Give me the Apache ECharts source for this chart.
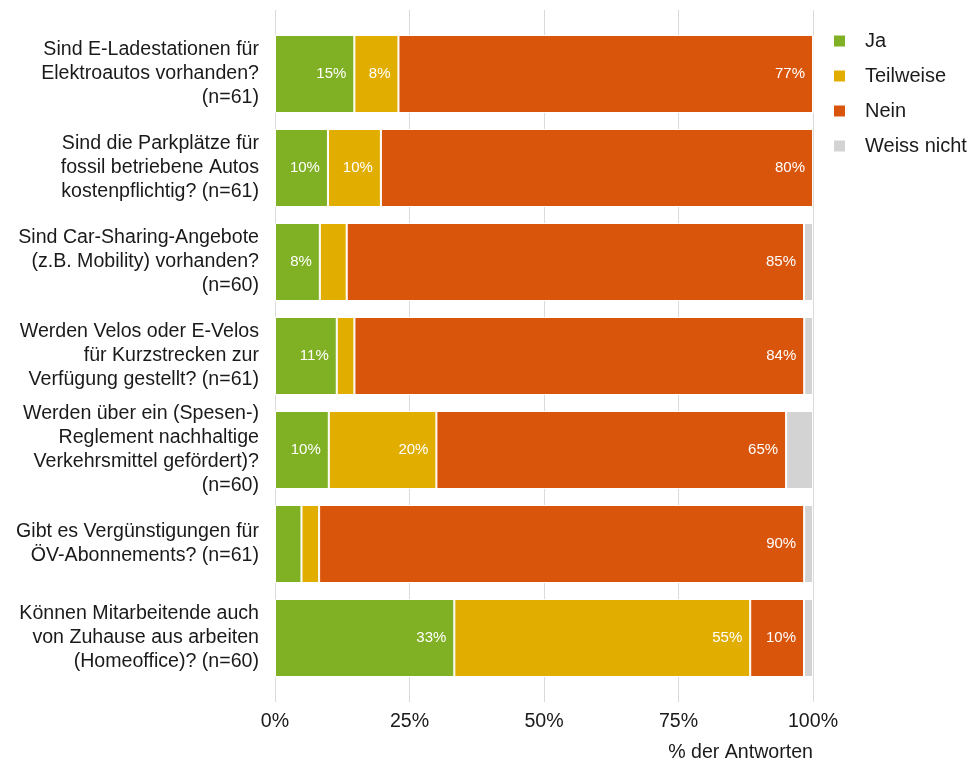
<!DOCTYPE html>
<html><head><meta charset="utf-8">
<script src="https://cdn.jsdelivr.net/npm/echarts@6/dist/echarts.min.js"></script>
<style>html,body{margin:0;padding:0;background:#fff}#c{width:968px;height:765px}</style>
</head><body><div id="c"></div>
<script>
const categories = [
  'Sind E-Ladestationen für\nElektroautos vorhanden?\n(n=61)',
  'Sind die Parkplätze für\nfossil betriebene Autos\nkostenpflichtig? (n=61)',
  'Sind Car-Sharing-Angebote\n(z.B. Mobility) vorhanden?\n(n=60)',
  'Werden Velos oder E-Velos\nfür Kurzstrecken zur\nVerfügung gestellt? (n=61)',
  'Werden über ein (Spesen-)\nReglement nachhaltige\nVerkehrsmittel gefördert)?\n(n=60)',
  'Gibt es Vergünstigungen für\nÖV-Abonnements? (n=61)',
  'Können Mitarbeitende auch\nvon Zuhause aus arbeiten\n(Homeoffice)? (n=60)'
];
const seriesNames = ['Ja', 'Teilweise', 'Nein', 'Weiss nicht'];
const ja         = [14.75, 9.84, 8.33, 11.48, 10.0, 4.92, 33.33];
const teilweise  = [8.20, 9.84, 5.0, 3.28, 20.0, 3.28, 55.0];
const nein       = [77.05, 80.33, 85.0, 83.61, 65.0, 90.16, 10.0];
const weissNicht = [0, 0, 1.67, 1.64, 5.0, 1.64, 1.67];
const tickValues = [0, 25, 50, 75, 100];
const colors = ['#80B024', '#E1AE00', '#D9550B', '#D3D3D3'];

const values = [ja, teilweise, nein, weissNicht];
const chart = echarts.init(document.getElementById('c'));
const font = 'Liberation Sans, Arial, sans-serif';
chart.setOption({
  animation: false,
  textStyle: {fontFamily: font},
  grid: [
    {left: 275, right: 155, top: 27, bottom: 80},
    {left: 275, right: 155, top: 10, bottom: 63}
  ],
  title: {
    text: '% der Antworten', right: 150, top: 738,
    textStyle: {fontFamily: font, fontSize: 19.6, fontWeight: 'normal', color: '#1a1a1a'}
  },
  legend: {
    orient: 'vertical', left: 827, top: 26, itemWidth: 13, itemHeight: 13, itemGap: 15,
    icon: 'rect',
    data: seriesNames,
    textStyle: {fontFamily: font, fontSize: 20, color: '#1a1a1a', padding: [0, 0, 0, 14]}
  },
  xAxis: [
    {gridIndex: 0, type: 'value', min: 0, max: 100, interval: 25, show: false},
    {gridIndex: 1, type: 'value', min: 0, max: 100, interval: 25,
     axisLine: {show: false}, axisTick: {show: false},
     splitLine: {show: true, lineStyle: {color: '#DADADA', width: 1}},
     axisLabel: {fontFamily: font, fontSize: 19.6, color: '#1a1a1a', margin: 10,
       customValues: tickValues, formatter: v => v + '%'}}
  ],
  yAxis: [
    {gridIndex: 0, type: 'category', data: categories, inverse: true,
     axisLine: {show: false}, axisTick: {show: false}, splitLine: {show: false},
     axisLabel: {fontFamily: font, fontSize: 19.6, lineHeight: 24, color: '#1a1a1a', margin: 16,
       padding: [4, 0, 0, 0]}},
    {gridIndex: 1, type: 'value', min: 0, max: 1, show: false}
  ],
  series: seriesNames.map((n, i) => ({
    name: n, type: 'bar', stack: 'total', xAxisIndex: 0, yAxisIndex: 0,
    barWidth: 78, data: values[i],
    itemStyle: {color: colors[i], borderColor: '#fff', borderWidth: 1},
    label: {show: true, position: 'insideRight', distance: 8, color: '#fff',
      fontFamily: font, fontSize: 15,
      formatter: p => p.value >= 6 ? Math.round(p.value) + '%' : ''}
  }))
});
</script></body></html>
